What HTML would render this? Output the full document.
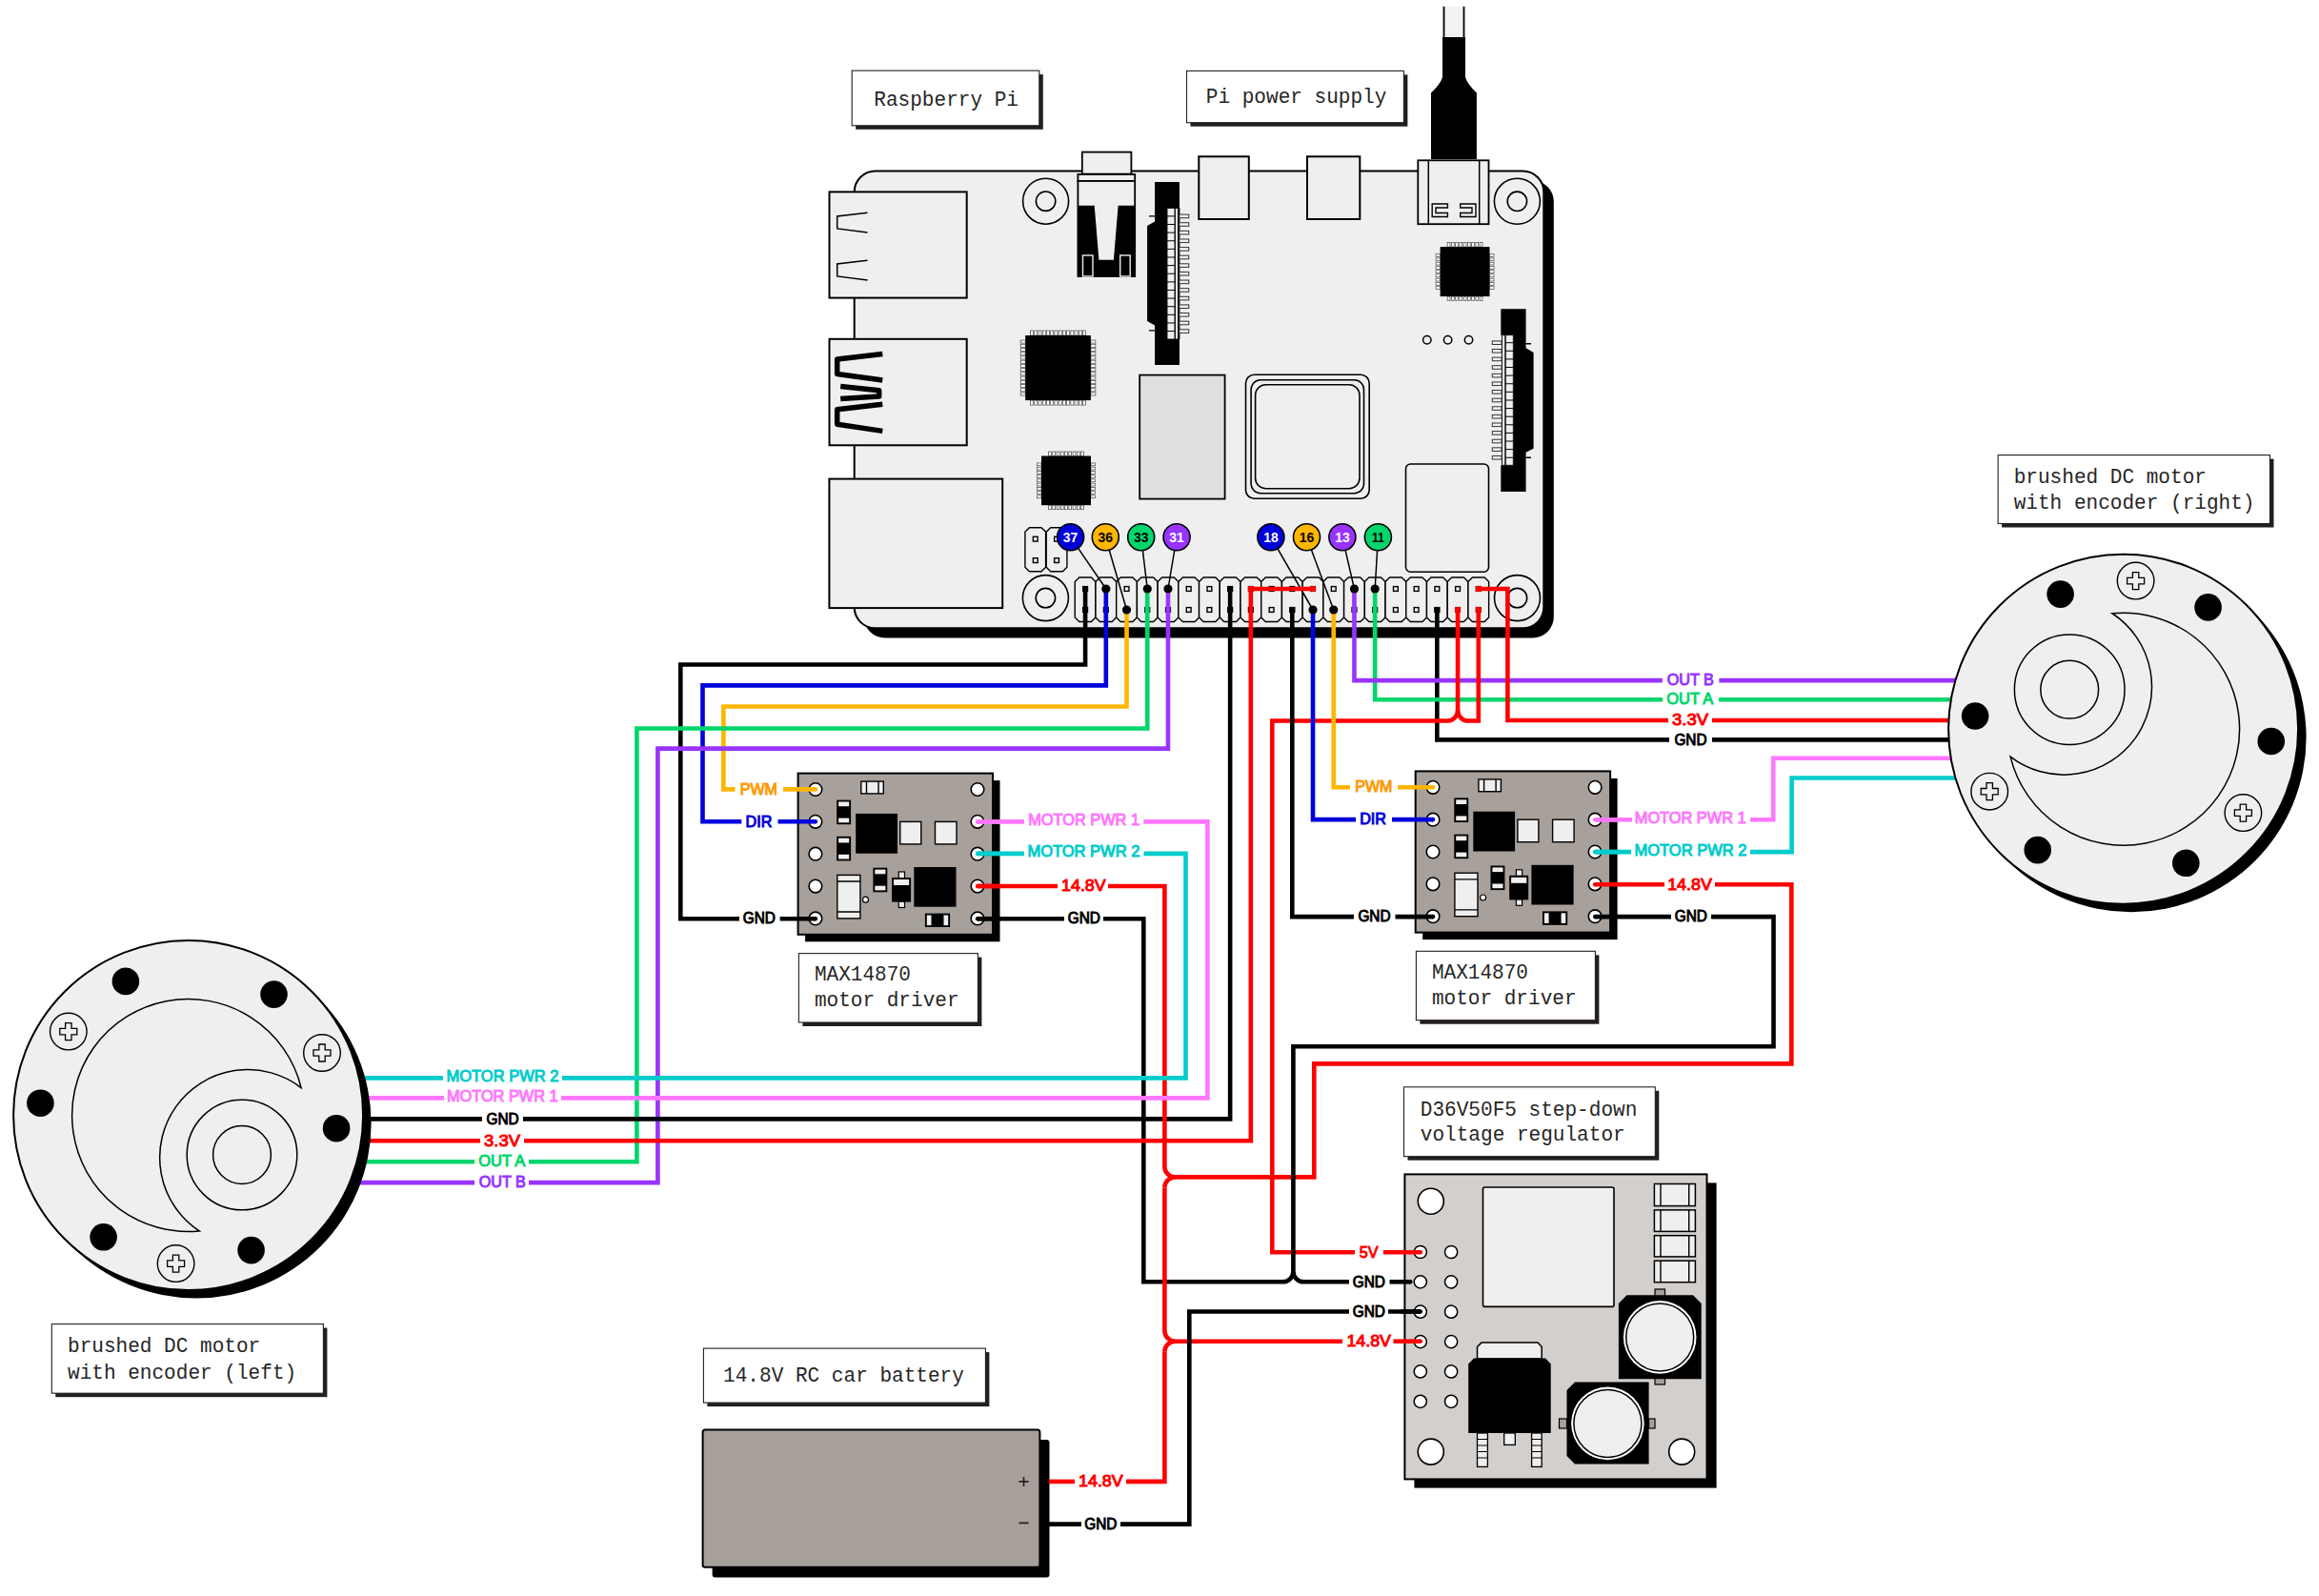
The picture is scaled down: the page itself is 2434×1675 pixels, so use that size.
<!DOCTYPE html>
<html><head><meta charset="utf-8"><title>wiring</title>
<style>
html,body{margin:0;padding:0;background:#fff;overflow:hidden;}
svg{display:block;}
.lb{font-family:"Liberation Mono",monospace;font-size:22.5px;fill:#262626;}
.wl{font-family:"Liberation Sans",sans-serif;font-weight:normal;font-size:15.8px;text-anchor:middle;stroke-width:0.95px;}
.pn{font-family:"Liberation Sans",sans-serif;font-weight:bold;font-size:15.5px;text-anchor:middle;}
</style></head><body>
<svg width="2434" height="1675" viewBox="0 0 2434 1675">
<rect width="2434" height="1675" fill="#fff"/>
<rect x="898.2" y="78.1" width="196.6" height="57.7" fill="#231f20"/>
<rect x="894.2" y="74.1" width="196.6" height="57.7" fill="#fff" stroke="#231f20" stroke-width="1.1"/>
<text class="lb" x="917.3" y="110.9" textLength="151.68" lengthAdjust="spacingAndGlyphs">Raspberry Pi</text>
<rect x="1249.5" y="78.4" width="227.9" height="54.3" fill="#231f20"/>
<rect x="1245.5" y="74.4" width="227.9" height="54.3" fill="#fff" stroke="#231f20" stroke-width="1.1"/>
<text class="lb" x="1265.8" y="107.6" textLength="189.6" lengthAdjust="spacingAndGlyphs">Pi power supply</text>
<rect x="2101.1" y="481.6" width="285.4" height="71.9" fill="#231f20"/>
<rect x="2097.1" y="477.6" width="285.4" height="71.9" fill="#fff" stroke="#231f20" stroke-width="1.1"/>
<text class="lb" x="2113.7" y="506.7" textLength="202.24" lengthAdjust="spacingAndGlyphs">brushed DC motor</text>
<text class="lb" x="2113.7" y="533.9" textLength="252.8" lengthAdjust="spacingAndGlyphs">with encoder (right)</text>
<rect x="842.4" y="1004.6" width="188" height="72.4" fill="#231f20"/>
<rect x="838.4" y="1000.6" width="188" height="72.4" fill="#fff" stroke="#231f20" stroke-width="1.1"/>
<text class="lb" x="854.9" y="1029.1" textLength="101.12" lengthAdjust="spacingAndGlyphs">MAX14870</text>
<text class="lb" x="854.9" y="1056" textLength="151.68" lengthAdjust="spacingAndGlyphs">motor driver</text>
<rect x="1490.4" y="1002.3" width="188" height="72.4" fill="#231f20"/>
<rect x="1486.4" y="998.3" width="188" height="72.4" fill="#fff" stroke="#231f20" stroke-width="1.1"/>
<text class="lb" x="1502.9" y="1026.8" textLength="101.12" lengthAdjust="spacingAndGlyphs">MAX14870</text>
<text class="lb" x="1502.9" y="1053.7" textLength="151.68" lengthAdjust="spacingAndGlyphs">motor driver</text>
<rect x="1477.5" y="1144.8" width="263.8" height="72.9" fill="#231f20"/>
<rect x="1473.5" y="1140.8" width="263.8" height="72.9" fill="#fff" stroke="#231f20" stroke-width="1.1"/>
<text class="lb" x="1490.8" y="1170.7" textLength="227.52" lengthAdjust="spacingAndGlyphs">D36V50F5 step-down</text>
<text class="lb" x="1490.8" y="1197.2" textLength="214.88" lengthAdjust="spacingAndGlyphs">voltage regulator</text>
<rect x="742.4" y="1419.1" width="296" height="57" fill="#231f20"/>
<rect x="738.4" y="1415.1" width="296" height="57" fill="#fff" stroke="#231f20" stroke-width="1.1"/>
<text class="lb" x="759.1" y="1450.3" textLength="252.8" lengthAdjust="spacingAndGlyphs">14.8V RC car battery</text>
<rect x="58.3" y="1393.6" width="285.1" height="72.6" fill="#231f20"/>
<rect x="54.3" y="1389.6" width="285.1" height="72.6" fill="#fff" stroke="#231f20" stroke-width="1.1"/>
<text class="lb" x="71" y="1419.4" textLength="202.24" lengthAdjust="spacingAndGlyphs">brushed DC motor</text>
<text class="lb" x="71" y="1446.5" textLength="240.16" lengthAdjust="spacingAndGlyphs">with encoder (left)</text>
<rect x="1515.2" y="6.8" width="21.7" height="33.2" fill="#f2f2f2"/>
<rect x="1514.6" y="6.8" width="1.8" height="33.2" fill="#000"/>
<rect x="1535.6" y="6.8" width="1.8" height="33.2" fill="#000"/>
<path d="M1514 38.9 H1538 V81 Q1540 88 1549.9 97.5 V167 H1502 V97.5 Q1512 88 1514 81 Z" fill="#000"/>
<rect x="906.7" y="189.5" width="724.1" height="479.9" rx="22" fill="#000"/>
<rect x="896.7" y="179.5" width="723.6" height="479.8" rx="22" fill="#efefef" stroke="#000" stroke-width="2"/>
<rect x="870.5" y="201.4" width="144.2" height="111.2" fill="#efefef" stroke="#000" stroke-width="2"/>
<rect x="870.5" y="355.8" width="144.2" height="111.5" fill="#efefef" stroke="#000" stroke-width="2"/>
<rect x="870.4" y="502.6" width="181.8" height="135.5" fill="#efefef" stroke="#000" stroke-width="2"/>
<path d="M910.5 223.2 L878.7 226.9 V239.9 L910.5 243.9" fill="none" stroke="#000" stroke-width="1.5"/>
<path d="M910.5 273.2 L878.7 276.9 V289.9 L910.5 293.9" fill="none" stroke="#000" stroke-width="1.5"/>
<path d="M926.3 371.6 L878.7 377.1 V392.5 L926.3 398.9 M882.2 405.6 L922.7 409.8 V416.1 L882.2 418.5 M926.3 424.3 L878.7 429.8 V445.2 L926.3 452.4" fill="none" stroke="#000" stroke-width="5.5" stroke-linejoin="round"/>
<circle cx="1097.6" cy="211.2" r="24" fill="#efefef" stroke="#000" stroke-width="1.6"/>
<circle cx="1097.6" cy="211.2" r="10.2" fill="#efefef" stroke="#000" stroke-width="1.6"/>
<circle cx="1592.4" cy="211.3" r="24" fill="#efefef" stroke="#000" stroke-width="1.6"/>
<circle cx="1592.4" cy="211.3" r="10.2" fill="#efefef" stroke="#000" stroke-width="1.6"/>
<circle cx="1097.4" cy="627.6" r="24" fill="#efefef" stroke="#000" stroke-width="1.6"/>
<circle cx="1097.4" cy="627.6" r="10.2" fill="#efefef" stroke="#000" stroke-width="1.6"/>
<circle cx="1592.5" cy="627.6" r="24" fill="#efefef" stroke="#000" stroke-width="1.6"/>
<circle cx="1592.5" cy="627.6" r="10.2" fill="#efefef" stroke="#000" stroke-width="1.6"/>
<rect x="1135.8" y="159.6" width="51.6" height="23" fill="#efefef" stroke="#000" stroke-width="1.8"/>
<rect x="1131.4" y="183" width="59.8" height="7" fill="#efefef" stroke="#000" stroke-width="1.8"/>
<rect x="1131.4" y="190" width="59.8" height="100" fill="#efefef" stroke="#000" stroke-width="1.8"/>
<path d="M1131.4 215.8 H1148.7 L1153.4 272.7 H1168.9 L1173.6 215.8 H1191.2 V290 H1131.4 Z" fill="#000"/>
<rect x="1136.5" y="268" width="10.5" height="22" fill="#000" stroke="#efefef" stroke-width="1.4"/>
<rect x="1175.7" y="268" width="10.5" height="22" fill="#000" stroke="#efefef" stroke-width="1.4"/>
<rect x="1258.3" y="164.3" width="52.5" height="65.7" fill="#efefef" stroke="#000" stroke-width="2"/>
<rect x="1372" y="164.3" width="55.3" height="65.7" fill="#efefef" stroke="#000" stroke-width="2"/>
<rect x="1488.3" y="168.3" width="74.2" height="66.9" fill="#efefef" stroke="#000" stroke-width="1.8"/>
<path d="M1499.3 168.3 V235.2 M1552.7 168.3 V235.2" stroke="#000" stroke-width="1.5"/>
<path d="M1519.4 214 H1503.2 V227.5 H1519.4 V223.5 H1507 V218 H1519.4 Z" fill="none" stroke="#000" stroke-width="1.4"/>
<path d="M1532.7 214 H1549 V227.5 H1532.7 V223.5 H1545 V218 H1532.7 Z" fill="none" stroke="#000" stroke-width="1.4"/>
<path d="M1212.1 191 H1238 V218 H1225 V356 H1238 V383 H1212.1 V341.4 L1204.1 337 V237 L1212.1 232.4 Z" fill="#000"/>
<path d="M1206 226.9 H1212 M1206 346.9 H1212" stroke="#000" stroke-width="1.4"/>
<rect x="1225" y="218.5" width="8" height="137.5" fill="#efefef" stroke="#000" stroke-width="0.9"/>
<rect x="1233.6" y="218.5" width="2.9" height="137.5" fill="#efefef" stroke="#000" stroke-width="0.9"/>
<rect x="1236.3" y="218" width="2.1" height="138" fill="#000"/>
<path d="M1225 226.9 H1233" stroke="#000" stroke-width="1"/>
<rect x="1237.8" y="225.1" width="10" height="3.6" fill="#efefef" stroke="#333" stroke-width="1"/>
<path d="M1225 235.52 H1233" stroke="#000" stroke-width="1"/>
<rect x="1237.8" y="233.72" width="10" height="3.6" fill="#efefef" stroke="#333" stroke-width="1"/>
<path d="M1225 244.14 H1233" stroke="#000" stroke-width="1"/>
<rect x="1237.8" y="242.34" width="10" height="3.6" fill="#efefef" stroke="#333" stroke-width="1"/>
<path d="M1225 252.76 H1233" stroke="#000" stroke-width="1"/>
<rect x="1237.8" y="250.96" width="10" height="3.6" fill="#efefef" stroke="#333" stroke-width="1"/>
<path d="M1225 261.38 H1233" stroke="#000" stroke-width="1"/>
<rect x="1237.8" y="259.58" width="10" height="3.6" fill="#efefef" stroke="#333" stroke-width="1"/>
<path d="M1225 270 H1233" stroke="#000" stroke-width="1"/>
<rect x="1237.8" y="268.2" width="10" height="3.6" fill="#efefef" stroke="#333" stroke-width="1"/>
<path d="M1225 278.62 H1233" stroke="#000" stroke-width="1"/>
<rect x="1237.8" y="276.82" width="10" height="3.6" fill="#efefef" stroke="#333" stroke-width="1"/>
<path d="M1225 287.24 H1233" stroke="#000" stroke-width="1"/>
<rect x="1237.8" y="285.44" width="10" height="3.6" fill="#efefef" stroke="#333" stroke-width="1"/>
<path d="M1225 295.86 H1233" stroke="#000" stroke-width="1"/>
<rect x="1237.8" y="294.06" width="10" height="3.6" fill="#efefef" stroke="#333" stroke-width="1"/>
<path d="M1225 304.48 H1233" stroke="#000" stroke-width="1"/>
<rect x="1237.8" y="302.68" width="10" height="3.6" fill="#efefef" stroke="#333" stroke-width="1"/>
<path d="M1225 313.1 H1233" stroke="#000" stroke-width="1"/>
<rect x="1237.8" y="311.3" width="10" height="3.6" fill="#efefef" stroke="#333" stroke-width="1"/>
<path d="M1225 321.72 H1233" stroke="#000" stroke-width="1"/>
<rect x="1237.8" y="319.92" width="10" height="3.6" fill="#efefef" stroke="#333" stroke-width="1"/>
<path d="M1225 330.34 H1233" stroke="#000" stroke-width="1"/>
<rect x="1237.8" y="328.54" width="10" height="3.6" fill="#efefef" stroke="#333" stroke-width="1"/>
<path d="M1225 338.96 H1233" stroke="#000" stroke-width="1"/>
<rect x="1237.8" y="337.16" width="10" height="3.6" fill="#efefef" stroke="#333" stroke-width="1"/>
<path d="M1225 347.58 H1233" stroke="#000" stroke-width="1"/>
<rect x="1237.8" y="345.78" width="10" height="3.6" fill="#efefef" stroke="#333" stroke-width="1"/>
<path d="M1575.3 324.2 H1601.6 V365.2 L1609.6 370 V470.7 L1601.6 474.8 V515.9 H1575.3 V488.3 H1588.3 V351.7 H1575.3 Z" fill="#000"/>
<path d="M1601.6 360.8 H1607 M1601.6 480.3 H1607" stroke="#000" stroke-width="1.4"/>
<rect x="1576.5" y="351.7" width="3.3" height="136.6" fill="#efefef" stroke="#000" stroke-width="0.9"/>
<rect x="1580.3" y="351.7" width="8" height="136.6" fill="#efefef" stroke="#000" stroke-width="0.9"/>
<path d="M1580.3 359.7 H1588.3" stroke="#000" stroke-width="1"/>
<rect x="1566.3" y="357.9" width="9.7" height="3.6" fill="#efefef" stroke="#333" stroke-width="1"/>
<path d="M1580.3 368.31 H1588.3" stroke="#000" stroke-width="1"/>
<rect x="1566.3" y="366.51" width="9.7" height="3.6" fill="#efefef" stroke="#333" stroke-width="1"/>
<path d="M1580.3 376.92 H1588.3" stroke="#000" stroke-width="1"/>
<rect x="1566.3" y="375.12" width="9.7" height="3.6" fill="#efefef" stroke="#333" stroke-width="1"/>
<path d="M1580.3 385.53 H1588.3" stroke="#000" stroke-width="1"/>
<rect x="1566.3" y="383.73" width="9.7" height="3.6" fill="#efefef" stroke="#333" stroke-width="1"/>
<path d="M1580.3 394.14 H1588.3" stroke="#000" stroke-width="1"/>
<rect x="1566.3" y="392.34" width="9.7" height="3.6" fill="#efefef" stroke="#333" stroke-width="1"/>
<path d="M1580.3 402.75 H1588.3" stroke="#000" stroke-width="1"/>
<rect x="1566.3" y="400.95" width="9.7" height="3.6" fill="#efefef" stroke="#333" stroke-width="1"/>
<path d="M1580.3 411.36 H1588.3" stroke="#000" stroke-width="1"/>
<rect x="1566.3" y="409.56" width="9.7" height="3.6" fill="#efefef" stroke="#333" stroke-width="1"/>
<path d="M1580.3 419.97 H1588.3" stroke="#000" stroke-width="1"/>
<rect x="1566.3" y="418.17" width="9.7" height="3.6" fill="#efefef" stroke="#333" stroke-width="1"/>
<path d="M1580.3 428.58 H1588.3" stroke="#000" stroke-width="1"/>
<rect x="1566.3" y="426.78" width="9.7" height="3.6" fill="#efefef" stroke="#333" stroke-width="1"/>
<path d="M1580.3 437.19 H1588.3" stroke="#000" stroke-width="1"/>
<rect x="1566.3" y="435.39" width="9.7" height="3.6" fill="#efefef" stroke="#333" stroke-width="1"/>
<path d="M1580.3 445.8 H1588.3" stroke="#000" stroke-width="1"/>
<rect x="1566.3" y="444" width="9.7" height="3.6" fill="#efefef" stroke="#333" stroke-width="1"/>
<path d="M1580.3 454.41 H1588.3" stroke="#000" stroke-width="1"/>
<rect x="1566.3" y="452.61" width="9.7" height="3.6" fill="#efefef" stroke="#333" stroke-width="1"/>
<path d="M1580.3 463.02 H1588.3" stroke="#000" stroke-width="1"/>
<rect x="1566.3" y="461.22" width="9.7" height="3.6" fill="#efefef" stroke="#333" stroke-width="1"/>
<path d="M1580.3 471.63 H1588.3" stroke="#000" stroke-width="1"/>
<rect x="1566.3" y="469.83" width="9.7" height="3.6" fill="#efefef" stroke="#333" stroke-width="1"/>
<path d="M1580.3 480.24 H1588.3" stroke="#000" stroke-width="1"/>
<rect x="1566.3" y="478.44" width="9.7" height="3.6" fill="#efefef" stroke="#333" stroke-width="1"/>
<rect x="1081.56" y="347" width="3" height="5" fill="#fff" stroke="#444" stroke-width="0.7"/>
<rect x="1081.56" y="420.1" width="3" height="5" fill="#fff" stroke="#444" stroke-width="0.7"/>
<rect x="1085.79" y="347" width="3" height="5" fill="#fff" stroke="#444" stroke-width="0.7"/>
<rect x="1085.79" y="420.1" width="3" height="5" fill="#fff" stroke="#444" stroke-width="0.7"/>
<rect x="1090.02" y="347" width="3" height="5" fill="#fff" stroke="#444" stroke-width="0.7"/>
<rect x="1090.02" y="420.1" width="3" height="5" fill="#fff" stroke="#444" stroke-width="0.7"/>
<rect x="1094.25" y="347" width="3" height="5" fill="#fff" stroke="#444" stroke-width="0.7"/>
<rect x="1094.25" y="420.1" width="3" height="5" fill="#fff" stroke="#444" stroke-width="0.7"/>
<rect x="1098.48" y="347" width="3" height="5" fill="#fff" stroke="#444" stroke-width="0.7"/>
<rect x="1098.48" y="420.1" width="3" height="5" fill="#fff" stroke="#444" stroke-width="0.7"/>
<rect x="1102.71" y="347" width="3" height="5" fill="#fff" stroke="#444" stroke-width="0.7"/>
<rect x="1102.71" y="420.1" width="3" height="5" fill="#fff" stroke="#444" stroke-width="0.7"/>
<rect x="1106.94" y="347" width="3" height="5" fill="#fff" stroke="#444" stroke-width="0.7"/>
<rect x="1106.94" y="420.1" width="3" height="5" fill="#fff" stroke="#444" stroke-width="0.7"/>
<rect x="1111.17" y="347" width="3" height="5" fill="#fff" stroke="#444" stroke-width="0.7"/>
<rect x="1111.17" y="420.1" width="3" height="5" fill="#fff" stroke="#444" stroke-width="0.7"/>
<rect x="1115.4" y="347" width="3" height="5" fill="#fff" stroke="#444" stroke-width="0.7"/>
<rect x="1115.4" y="420.1" width="3" height="5" fill="#fff" stroke="#444" stroke-width="0.7"/>
<rect x="1119.63" y="347" width="3" height="5" fill="#fff" stroke="#444" stroke-width="0.7"/>
<rect x="1119.63" y="420.1" width="3" height="5" fill="#fff" stroke="#444" stroke-width="0.7"/>
<rect x="1123.86" y="347" width="3" height="5" fill="#fff" stroke="#444" stroke-width="0.7"/>
<rect x="1123.86" y="420.1" width="3" height="5" fill="#fff" stroke="#444" stroke-width="0.7"/>
<rect x="1128.09" y="347" width="3" height="5" fill="#fff" stroke="#444" stroke-width="0.7"/>
<rect x="1128.09" y="420.1" width="3" height="5" fill="#fff" stroke="#444" stroke-width="0.7"/>
<rect x="1132.32" y="347" width="3" height="5" fill="#fff" stroke="#444" stroke-width="0.7"/>
<rect x="1132.32" y="420.1" width="3" height="5" fill="#fff" stroke="#444" stroke-width="0.7"/>
<rect x="1136.55" y="347" width="3" height="5" fill="#fff" stroke="#444" stroke-width="0.7"/>
<rect x="1136.55" y="420.1" width="3" height="5" fill="#fff" stroke="#444" stroke-width="0.7"/>
<rect x="1071.2" y="357.06" width="5" height="3" fill="#fff" stroke="#444" stroke-width="0.7"/>
<rect x="1144.9" y="357.06" width="5" height="3" fill="#fff" stroke="#444" stroke-width="0.7"/>
<rect x="1071.2" y="361.29" width="5" height="3" fill="#fff" stroke="#444" stroke-width="0.7"/>
<rect x="1144.9" y="361.29" width="5" height="3" fill="#fff" stroke="#444" stroke-width="0.7"/>
<rect x="1071.2" y="365.51" width="5" height="3" fill="#fff" stroke="#444" stroke-width="0.7"/>
<rect x="1144.9" y="365.51" width="5" height="3" fill="#fff" stroke="#444" stroke-width="0.7"/>
<rect x="1071.2" y="369.75" width="5" height="3" fill="#fff" stroke="#444" stroke-width="0.7"/>
<rect x="1144.9" y="369.75" width="5" height="3" fill="#fff" stroke="#444" stroke-width="0.7"/>
<rect x="1071.2" y="373.98" width="5" height="3" fill="#fff" stroke="#444" stroke-width="0.7"/>
<rect x="1144.9" y="373.98" width="5" height="3" fill="#fff" stroke="#444" stroke-width="0.7"/>
<rect x="1071.2" y="378.2" width="5" height="3" fill="#fff" stroke="#444" stroke-width="0.7"/>
<rect x="1144.9" y="378.2" width="5" height="3" fill="#fff" stroke="#444" stroke-width="0.7"/>
<rect x="1071.2" y="382.44" width="5" height="3" fill="#fff" stroke="#444" stroke-width="0.7"/>
<rect x="1144.9" y="382.44" width="5" height="3" fill="#fff" stroke="#444" stroke-width="0.7"/>
<rect x="1071.2" y="386.67" width="5" height="3" fill="#fff" stroke="#444" stroke-width="0.7"/>
<rect x="1144.9" y="386.67" width="5" height="3" fill="#fff" stroke="#444" stroke-width="0.7"/>
<rect x="1071.2" y="390.9" width="5" height="3" fill="#fff" stroke="#444" stroke-width="0.7"/>
<rect x="1144.9" y="390.9" width="5" height="3" fill="#fff" stroke="#444" stroke-width="0.7"/>
<rect x="1071.2" y="395.12" width="5" height="3" fill="#fff" stroke="#444" stroke-width="0.7"/>
<rect x="1144.9" y="395.12" width="5" height="3" fill="#fff" stroke="#444" stroke-width="0.7"/>
<rect x="1071.2" y="399.36" width="5" height="3" fill="#fff" stroke="#444" stroke-width="0.7"/>
<rect x="1144.9" y="399.36" width="5" height="3" fill="#fff" stroke="#444" stroke-width="0.7"/>
<rect x="1071.2" y="403.59" width="5" height="3" fill="#fff" stroke="#444" stroke-width="0.7"/>
<rect x="1144.9" y="403.59" width="5" height="3" fill="#fff" stroke="#444" stroke-width="0.7"/>
<rect x="1071.2" y="407.81" width="5" height="3" fill="#fff" stroke="#444" stroke-width="0.7"/>
<rect x="1144.9" y="407.81" width="5" height="3" fill="#fff" stroke="#444" stroke-width="0.7"/>
<rect x="1071.2" y="412.05" width="5" height="3" fill="#fff" stroke="#444" stroke-width="0.7"/>
<rect x="1144.9" y="412.05" width="5" height="3" fill="#fff" stroke="#444" stroke-width="0.7"/>
<rect x="1076.2" y="352" width="68.7" height="68.1" fill="#000"/>
<rect x="1100.6" y="474" width="2.8" height="4.5" fill="#fff" stroke="#444" stroke-width="0.7"/>
<rect x="1100.6" y="530.2" width="2.8" height="4.5" fill="#fff" stroke="#444" stroke-width="0.7"/>
<rect x="1104.85" y="474" width="2.8" height="4.5" fill="#fff" stroke="#444" stroke-width="0.7"/>
<rect x="1104.85" y="530.2" width="2.8" height="4.5" fill="#fff" stroke="#444" stroke-width="0.7"/>
<rect x="1109.1" y="474" width="2.8" height="4.5" fill="#fff" stroke="#444" stroke-width="0.7"/>
<rect x="1109.1" y="530.2" width="2.8" height="4.5" fill="#fff" stroke="#444" stroke-width="0.7"/>
<rect x="1113.35" y="474" width="2.8" height="4.5" fill="#fff" stroke="#444" stroke-width="0.7"/>
<rect x="1113.35" y="530.2" width="2.8" height="4.5" fill="#fff" stroke="#444" stroke-width="0.7"/>
<rect x="1117.6" y="474" width="2.8" height="4.5" fill="#fff" stroke="#444" stroke-width="0.7"/>
<rect x="1117.6" y="530.2" width="2.8" height="4.5" fill="#fff" stroke="#444" stroke-width="0.7"/>
<rect x="1121.85" y="474" width="2.8" height="4.5" fill="#fff" stroke="#444" stroke-width="0.7"/>
<rect x="1121.85" y="530.2" width="2.8" height="4.5" fill="#fff" stroke="#444" stroke-width="0.7"/>
<rect x="1126.1" y="474" width="2.8" height="4.5" fill="#fff" stroke="#444" stroke-width="0.7"/>
<rect x="1126.1" y="530.2" width="2.8" height="4.5" fill="#fff" stroke="#444" stroke-width="0.7"/>
<rect x="1130.35" y="474" width="2.8" height="4.5" fill="#fff" stroke="#444" stroke-width="0.7"/>
<rect x="1130.35" y="530.2" width="2.8" height="4.5" fill="#fff" stroke="#444" stroke-width="0.7"/>
<rect x="1134.6" y="474" width="2.8" height="4.5" fill="#fff" stroke="#444" stroke-width="0.7"/>
<rect x="1134.6" y="530.2" width="2.8" height="4.5" fill="#fff" stroke="#444" stroke-width="0.7"/>
<rect x="1088.5" y="485.95" width="4.5" height="2.8" fill="#fff" stroke="#444" stroke-width="0.7"/>
<rect x="1145" y="485.95" width="4.5" height="2.8" fill="#fff" stroke="#444" stroke-width="0.7"/>
<rect x="1088.5" y="490.2" width="4.5" height="2.8" fill="#fff" stroke="#444" stroke-width="0.7"/>
<rect x="1145" y="490.2" width="4.5" height="2.8" fill="#fff" stroke="#444" stroke-width="0.7"/>
<rect x="1088.5" y="494.45" width="4.5" height="2.8" fill="#fff" stroke="#444" stroke-width="0.7"/>
<rect x="1145" y="494.45" width="4.5" height="2.8" fill="#fff" stroke="#444" stroke-width="0.7"/>
<rect x="1088.5" y="498.7" width="4.5" height="2.8" fill="#fff" stroke="#444" stroke-width="0.7"/>
<rect x="1145" y="498.7" width="4.5" height="2.8" fill="#fff" stroke="#444" stroke-width="0.7"/>
<rect x="1088.5" y="502.95" width="4.5" height="2.8" fill="#fff" stroke="#444" stroke-width="0.7"/>
<rect x="1145" y="502.95" width="4.5" height="2.8" fill="#fff" stroke="#444" stroke-width="0.7"/>
<rect x="1088.5" y="507.2" width="4.5" height="2.8" fill="#fff" stroke="#444" stroke-width="0.7"/>
<rect x="1145" y="507.2" width="4.5" height="2.8" fill="#fff" stroke="#444" stroke-width="0.7"/>
<rect x="1088.5" y="511.45" width="4.5" height="2.8" fill="#fff" stroke="#444" stroke-width="0.7"/>
<rect x="1145" y="511.45" width="4.5" height="2.8" fill="#fff" stroke="#444" stroke-width="0.7"/>
<rect x="1088.5" y="515.7" width="4.5" height="2.8" fill="#fff" stroke="#444" stroke-width="0.7"/>
<rect x="1145" y="515.7" width="4.5" height="2.8" fill="#fff" stroke="#444" stroke-width="0.7"/>
<rect x="1088.5" y="519.95" width="4.5" height="2.8" fill="#fff" stroke="#444" stroke-width="0.7"/>
<rect x="1145" y="519.95" width="4.5" height="2.8" fill="#fff" stroke="#444" stroke-width="0.7"/>
<rect x="1093" y="478.5" width="52" height="51.7" fill="#000"/>
<rect x="1519.15" y="254.6" width="2.8" height="4.5" fill="#fff" stroke="#444" stroke-width="0.7"/>
<rect x="1519.15" y="311.1" width="2.8" height="4.5" fill="#fff" stroke="#444" stroke-width="0.7"/>
<rect x="1523.4" y="254.6" width="2.8" height="4.5" fill="#fff" stroke="#444" stroke-width="0.7"/>
<rect x="1523.4" y="311.1" width="2.8" height="4.5" fill="#fff" stroke="#444" stroke-width="0.7"/>
<rect x="1527.65" y="254.6" width="2.8" height="4.5" fill="#fff" stroke="#444" stroke-width="0.7"/>
<rect x="1527.65" y="311.1" width="2.8" height="4.5" fill="#fff" stroke="#444" stroke-width="0.7"/>
<rect x="1531.9" y="254.6" width="2.8" height="4.5" fill="#fff" stroke="#444" stroke-width="0.7"/>
<rect x="1531.9" y="311.1" width="2.8" height="4.5" fill="#fff" stroke="#444" stroke-width="0.7"/>
<rect x="1536.15" y="254.6" width="2.8" height="4.5" fill="#fff" stroke="#444" stroke-width="0.7"/>
<rect x="1536.15" y="311.1" width="2.8" height="4.5" fill="#fff" stroke="#444" stroke-width="0.7"/>
<rect x="1540.4" y="254.6" width="2.8" height="4.5" fill="#fff" stroke="#444" stroke-width="0.7"/>
<rect x="1540.4" y="311.1" width="2.8" height="4.5" fill="#fff" stroke="#444" stroke-width="0.7"/>
<rect x="1544.65" y="254.6" width="2.8" height="4.5" fill="#fff" stroke="#444" stroke-width="0.7"/>
<rect x="1544.65" y="311.1" width="2.8" height="4.5" fill="#fff" stroke="#444" stroke-width="0.7"/>
<rect x="1548.9" y="254.6" width="2.8" height="4.5" fill="#fff" stroke="#444" stroke-width="0.7"/>
<rect x="1548.9" y="311.1" width="2.8" height="4.5" fill="#fff" stroke="#444" stroke-width="0.7"/>
<rect x="1553.15" y="254.6" width="2.8" height="4.5" fill="#fff" stroke="#444" stroke-width="0.7"/>
<rect x="1553.15" y="311.1" width="2.8" height="4.5" fill="#fff" stroke="#444" stroke-width="0.7"/>
<rect x="1507.1" y="266.7" width="4.5" height="2.8" fill="#fff" stroke="#444" stroke-width="0.7"/>
<rect x="1563.5" y="266.7" width="4.5" height="2.8" fill="#fff" stroke="#444" stroke-width="0.7"/>
<rect x="1507.1" y="270.95" width="4.5" height="2.8" fill="#fff" stroke="#444" stroke-width="0.7"/>
<rect x="1563.5" y="270.95" width="4.5" height="2.8" fill="#fff" stroke="#444" stroke-width="0.7"/>
<rect x="1507.1" y="275.2" width="4.5" height="2.8" fill="#fff" stroke="#444" stroke-width="0.7"/>
<rect x="1563.5" y="275.2" width="4.5" height="2.8" fill="#fff" stroke="#444" stroke-width="0.7"/>
<rect x="1507.1" y="279.45" width="4.5" height="2.8" fill="#fff" stroke="#444" stroke-width="0.7"/>
<rect x="1563.5" y="279.45" width="4.5" height="2.8" fill="#fff" stroke="#444" stroke-width="0.7"/>
<rect x="1507.1" y="283.7" width="4.5" height="2.8" fill="#fff" stroke="#444" stroke-width="0.7"/>
<rect x="1563.5" y="283.7" width="4.5" height="2.8" fill="#fff" stroke="#444" stroke-width="0.7"/>
<rect x="1507.1" y="287.95" width="4.5" height="2.8" fill="#fff" stroke="#444" stroke-width="0.7"/>
<rect x="1563.5" y="287.95" width="4.5" height="2.8" fill="#fff" stroke="#444" stroke-width="0.7"/>
<rect x="1507.1" y="292.2" width="4.5" height="2.8" fill="#fff" stroke="#444" stroke-width="0.7"/>
<rect x="1563.5" y="292.2" width="4.5" height="2.8" fill="#fff" stroke="#444" stroke-width="0.7"/>
<rect x="1507.1" y="296.45" width="4.5" height="2.8" fill="#fff" stroke="#444" stroke-width="0.7"/>
<rect x="1563.5" y="296.45" width="4.5" height="2.8" fill="#fff" stroke="#444" stroke-width="0.7"/>
<rect x="1507.1" y="300.7" width="4.5" height="2.8" fill="#fff" stroke="#444" stroke-width="0.7"/>
<rect x="1563.5" y="300.7" width="4.5" height="2.8" fill="#fff" stroke="#444" stroke-width="0.7"/>
<rect x="1511.6" y="259.1" width="51.9" height="52" fill="#000"/>
<circle cx="1497.8" cy="356.7" r="4.2" fill="#efefef" stroke="#000" stroke-width="1.5"/>
<circle cx="1519.6" cy="356.7" r="4.2" fill="#efefef" stroke="#000" stroke-width="1.5"/>
<circle cx="1541.5" cy="356.7" r="4.2" fill="#efefef" stroke="#000" stroke-width="1.5"/>
<rect x="1196.2" y="393.6" width="89.4" height="130" fill="#e0dfde" stroke="#000" stroke-width="1.8"/>
<rect x="1307.5" y="393.2" width="129.7" height="130.1" rx="9" fill="#efefef" stroke="#000" stroke-width="1.6"/>
<rect x="1313.1" y="398.8" width="118.4" height="118.9" rx="10" fill="#efefef" stroke="#000" stroke-width="1.6"/>
<rect x="1317.6" y="403.8" width="109.4" height="108.9" rx="11" fill="#efefef" stroke="#000" stroke-width="1.6"/>
<rect x="1475.5" y="487" width="87" height="113.2" rx="5" fill="#efefef" stroke="#000" stroke-width="1.6"/>
<path d="M1080.4 553.7 H1093.1 L1097.6 558.2 V595.2 L1093.1 599.7 H1080.4 L1075.9 595.2 V558.2 Z" fill="#efefef" stroke="#000" stroke-width="1.4" stroke-linejoin="round"/>
<rect x="1084.35" y="563.3" width="4.8" height="4.8" fill="#efefef" stroke="#000" stroke-width="1.4"/>
<rect x="1084.35" y="585.7" width="4.8" height="4.8" fill="#efefef" stroke="#000" stroke-width="1.4"/>
<path d="M1102.7 553.7 H1115.4 L1119.9 558.2 V595.2 L1115.4 599.7 H1102.7 L1098.2 595.2 V558.2 Z" fill="#efefef" stroke="#000" stroke-width="1.4" stroke-linejoin="round"/>
<rect x="1106.65" y="563.3" width="4.8" height="4.8" fill="#efefef" stroke="#000" stroke-width="1.4"/>
<rect x="1106.65" y="585.7" width="4.8" height="4.8" fill="#efefef" stroke="#000" stroke-width="1.4"/>
<path d="M1132.75 606 H1145.45 L1149.95 610.5 V648 L1145.45 652.5 H1132.75 L1128.25 648 V610.5 Z" fill="#efefef" stroke="#000" stroke-width="1.4" stroke-linejoin="round"/>
<rect x="1136.7" y="615.6" width="4.8" height="4.8" fill="#efefef" stroke="#000" stroke-width="1.4"/>
<rect x="1136.7" y="637.6" width="4.8" height="4.8" fill="#efefef" stroke="#000" stroke-width="1.4"/>
<path d="M1154.47 606 H1167.17 L1171.67 610.5 V648 L1167.17 652.5 H1154.47 L1149.97 648 V610.5 Z" fill="#efefef" stroke="#000" stroke-width="1.4" stroke-linejoin="round"/>
<rect x="1158.42" y="615.6" width="4.8" height="4.8" fill="#efefef" stroke="#000" stroke-width="1.4"/>
<rect x="1158.42" y="637.6" width="4.8" height="4.8" fill="#efefef" stroke="#000" stroke-width="1.4"/>
<path d="M1176.19 606 H1188.89 L1193.39 610.5 V648 L1188.89 652.5 H1176.19 L1171.69 648 V610.5 Z" fill="#efefef" stroke="#000" stroke-width="1.4" stroke-linejoin="round"/>
<rect x="1180.14" y="615.6" width="4.8" height="4.8" fill="#efefef" stroke="#000" stroke-width="1.4"/>
<rect x="1180.14" y="637.6" width="4.8" height="4.8" fill="#efefef" stroke="#000" stroke-width="1.4"/>
<path d="M1197.91 606 H1210.61 L1215.11 610.5 V648 L1210.61 652.5 H1197.91 L1193.41 648 V610.5 Z" fill="#efefef" stroke="#000" stroke-width="1.4" stroke-linejoin="round"/>
<rect x="1201.86" y="615.6" width="4.8" height="4.8" fill="#efefef" stroke="#000" stroke-width="1.4"/>
<rect x="1201.86" y="637.6" width="4.8" height="4.8" fill="#efefef" stroke="#000" stroke-width="1.4"/>
<path d="M1219.63 606 H1232.33 L1236.83 610.5 V648 L1232.33 652.5 H1219.63 L1215.13 648 V610.5 Z" fill="#efefef" stroke="#000" stroke-width="1.4" stroke-linejoin="round"/>
<rect x="1223.58" y="615.6" width="4.8" height="4.8" fill="#efefef" stroke="#000" stroke-width="1.4"/>
<rect x="1223.58" y="637.6" width="4.8" height="4.8" fill="#efefef" stroke="#000" stroke-width="1.4"/>
<path d="M1241.35 606 H1254.05 L1258.55 610.5 V648 L1254.05 652.5 H1241.35 L1236.85 648 V610.5 Z" fill="#efefef" stroke="#000" stroke-width="1.4" stroke-linejoin="round"/>
<rect x="1245.3" y="615.6" width="4.8" height="4.8" fill="#efefef" stroke="#000" stroke-width="1.4"/>
<rect x="1245.3" y="637.6" width="4.8" height="4.8" fill="#efefef" stroke="#000" stroke-width="1.4"/>
<path d="M1263.07 606 H1275.77 L1280.27 610.5 V648 L1275.77 652.5 H1263.07 L1258.57 648 V610.5 Z" fill="#efefef" stroke="#000" stroke-width="1.4" stroke-linejoin="round"/>
<rect x="1267.02" y="615.6" width="4.8" height="4.8" fill="#efefef" stroke="#000" stroke-width="1.4"/>
<rect x="1267.02" y="637.6" width="4.8" height="4.8" fill="#efefef" stroke="#000" stroke-width="1.4"/>
<path d="M1284.79 606 H1297.49 L1301.99 610.5 V648 L1297.49 652.5 H1284.79 L1280.29 648 V610.5 Z" fill="#efefef" stroke="#000" stroke-width="1.4" stroke-linejoin="round"/>
<rect x="1288.74" y="615.6" width="4.8" height="4.8" fill="#efefef" stroke="#000" stroke-width="1.4"/>
<rect x="1288.74" y="637.6" width="4.8" height="4.8" fill="#efefef" stroke="#000" stroke-width="1.4"/>
<path d="M1306.51 606 H1319.21 L1323.71 610.5 V648 L1319.21 652.5 H1306.51 L1302.01 648 V610.5 Z" fill="#efefef" stroke="#000" stroke-width="1.4" stroke-linejoin="round"/>
<rect x="1310.46" y="615.6" width="4.8" height="4.8" fill="#efefef" stroke="#000" stroke-width="1.4"/>
<rect x="1310.46" y="637.6" width="4.8" height="4.8" fill="#efefef" stroke="#000" stroke-width="1.4"/>
<path d="M1328.23 606 H1340.93 L1345.43 610.5 V648 L1340.93 652.5 H1328.23 L1323.73 648 V610.5 Z" fill="#efefef" stroke="#000" stroke-width="1.4" stroke-linejoin="round"/>
<rect x="1332.18" y="615.6" width="4.8" height="4.8" fill="#efefef" stroke="#000" stroke-width="1.4"/>
<rect x="1332.18" y="637.6" width="4.8" height="4.8" fill="#efefef" stroke="#000" stroke-width="1.4"/>
<path d="M1349.95 606 H1362.65 L1367.15 610.5 V648 L1362.65 652.5 H1349.95 L1345.45 648 V610.5 Z" fill="#efefef" stroke="#000" stroke-width="1.4" stroke-linejoin="round"/>
<rect x="1353.9" y="615.6" width="4.8" height="4.8" fill="#efefef" stroke="#000" stroke-width="1.4"/>
<rect x="1353.9" y="637.6" width="4.8" height="4.8" fill="#efefef" stroke="#000" stroke-width="1.4"/>
<path d="M1371.67 606 H1384.37 L1388.87 610.5 V648 L1384.37 652.5 H1371.67 L1367.17 648 V610.5 Z" fill="#efefef" stroke="#000" stroke-width="1.4" stroke-linejoin="round"/>
<rect x="1375.62" y="615.6" width="4.8" height="4.8" fill="#efefef" stroke="#000" stroke-width="1.4"/>
<rect x="1375.62" y="637.6" width="4.8" height="4.8" fill="#efefef" stroke="#000" stroke-width="1.4"/>
<path d="M1393.39 606 H1406.09 L1410.59 610.5 V648 L1406.09 652.5 H1393.39 L1388.89 648 V610.5 Z" fill="#efefef" stroke="#000" stroke-width="1.4" stroke-linejoin="round"/>
<rect x="1397.34" y="615.6" width="4.8" height="4.8" fill="#efefef" stroke="#000" stroke-width="1.4"/>
<rect x="1397.34" y="637.6" width="4.8" height="4.8" fill="#efefef" stroke="#000" stroke-width="1.4"/>
<path d="M1415.11 606 H1427.81 L1432.31 610.5 V648 L1427.81 652.5 H1415.11 L1410.61 648 V610.5 Z" fill="#efefef" stroke="#000" stroke-width="1.4" stroke-linejoin="round"/>
<rect x="1419.06" y="615.6" width="4.8" height="4.8" fill="#efefef" stroke="#000" stroke-width="1.4"/>
<rect x="1419.06" y="637.6" width="4.8" height="4.8" fill="#efefef" stroke="#000" stroke-width="1.4"/>
<path d="M1436.83 606 H1449.53 L1454.03 610.5 V648 L1449.53 652.5 H1436.83 L1432.33 648 V610.5 Z" fill="#efefef" stroke="#000" stroke-width="1.4" stroke-linejoin="round"/>
<rect x="1440.78" y="615.6" width="4.8" height="4.8" fill="#efefef" stroke="#000" stroke-width="1.4"/>
<rect x="1440.78" y="637.6" width="4.8" height="4.8" fill="#efefef" stroke="#000" stroke-width="1.4"/>
<path d="M1458.55 606 H1471.25 L1475.75 610.5 V648 L1471.25 652.5 H1458.55 L1454.05 648 V610.5 Z" fill="#efefef" stroke="#000" stroke-width="1.4" stroke-linejoin="round"/>
<rect x="1462.5" y="615.6" width="4.8" height="4.8" fill="#efefef" stroke="#000" stroke-width="1.4"/>
<rect x="1462.5" y="637.6" width="4.8" height="4.8" fill="#efefef" stroke="#000" stroke-width="1.4"/>
<path d="M1480.27 606 H1492.97 L1497.47 610.5 V648 L1492.97 652.5 H1480.27 L1475.77 648 V610.5 Z" fill="#efefef" stroke="#000" stroke-width="1.4" stroke-linejoin="round"/>
<rect x="1484.22" y="615.6" width="4.8" height="4.8" fill="#efefef" stroke="#000" stroke-width="1.4"/>
<rect x="1484.22" y="637.6" width="4.8" height="4.8" fill="#efefef" stroke="#000" stroke-width="1.4"/>
<path d="M1501.99 606 H1514.69 L1519.19 610.5 V648 L1514.69 652.5 H1501.99 L1497.49 648 V610.5 Z" fill="#efefef" stroke="#000" stroke-width="1.4" stroke-linejoin="round"/>
<rect x="1505.94" y="615.6" width="4.8" height="4.8" fill="#efefef" stroke="#000" stroke-width="1.4"/>
<rect x="1505.94" y="637.6" width="4.8" height="4.8" fill="#efefef" stroke="#000" stroke-width="1.4"/>
<path d="M1523.71 606 H1536.41 L1540.91 610.5 V648 L1536.41 652.5 H1523.71 L1519.21 648 V610.5 Z" fill="#efefef" stroke="#000" stroke-width="1.4" stroke-linejoin="round"/>
<rect x="1527.66" y="615.6" width="4.8" height="4.8" fill="#efefef" stroke="#000" stroke-width="1.4"/>
<rect x="1527.66" y="637.6" width="4.8" height="4.8" fill="#efefef" stroke="#000" stroke-width="1.4"/>
<path d="M1545.43 606 H1558.13 L1562.63 610.5 V648 L1558.13 652.5 H1545.43 L1540.93 648 V610.5 Z" fill="#efefef" stroke="#000" stroke-width="1.4" stroke-linejoin="round"/>
<rect x="1549.38" y="615.6" width="4.8" height="4.8" fill="#efefef" stroke="#000" stroke-width="1.4"/>
<rect x="1549.38" y="637.6" width="4.8" height="4.8" fill="#efefef" stroke="#000" stroke-width="1.4"/>
<rect x="845.1" y="819.1" width="204.4" height="169.2" fill="#000"/>
<rect x="837.6" y="811.6" width="204.4" height="169.2" fill="#a8a09b" stroke="#000" stroke-width="2"/>
<circle cx="855.9" cy="828.5" r="6.8" fill="#fff" stroke="#000" stroke-width="1.6"/>
<circle cx="855.9" cy="862.35" r="6.8" fill="#fff" stroke="#000" stroke-width="1.6"/>
<circle cx="855.9" cy="896.2" r="6.8" fill="#fff" stroke="#000" stroke-width="1.6"/>
<circle cx="855.9" cy="930.05" r="6.8" fill="#fff" stroke="#000" stroke-width="1.6"/>
<circle cx="855.9" cy="963.9" r="6.8" fill="#fff" stroke="#000" stroke-width="1.6"/>
<circle cx="1026" cy="828.5" r="6.8" fill="#fff" stroke="#000" stroke-width="1.6"/>
<circle cx="1026" cy="862.35" r="6.8" fill="#fff" stroke="#000" stroke-width="1.6"/>
<circle cx="1026" cy="896.2" r="6.8" fill="#fff" stroke="#000" stroke-width="1.6"/>
<circle cx="1026" cy="930.05" r="6.8" fill="#fff" stroke="#000" stroke-width="1.6"/>
<circle cx="1026" cy="963.9" r="6.8" fill="#fff" stroke="#000" stroke-width="1.6"/>
<rect x="903.8" y="820.1" width="23.5" height="12.8" fill="#efefef" stroke="#000" stroke-width="1.4"/>
<path d="M909.5 820.1 V832.9 M922 820.1 V832.9" stroke="#000" stroke-width="1.4"/>
<rect x="878.8" y="840.2" width="13.7" height="24.4" fill="#000" stroke="#000" stroke-width="1.2"/>
<rect x="880.1" y="841.5" width="11.1" height="4.7" fill="#efefef"/>
<rect x="880.1" y="858.6" width="11.1" height="4.7" fill="#efefef"/>
<rect x="878.8" y="878.4" width="13.7" height="24.4" fill="#000" stroke="#000" stroke-width="1.2"/>
<rect x="880.1" y="879.7" width="11.1" height="4.7" fill="#efefef"/>
<rect x="880.1" y="896.8" width="11.1" height="4.7" fill="#efefef"/>
<rect x="917" y="911.3" width="13.7" height="24.4" fill="#000" stroke="#000" stroke-width="1.2"/>
<rect x="918.3" y="912.6" width="11.1" height="4.7" fill="#efefef"/>
<rect x="918.3" y="929.7" width="11.1" height="4.7" fill="#efefef"/>
<rect x="898.2" y="853.9" width="43.8" height="41.8" fill="#000"/>
<rect x="959.3" y="910" width="44.2" height="41.7" fill="#000"/>
<rect x="944.8" y="862.4" width="22" height="23.5" fill="#efefef" stroke="#000" stroke-width="1.4"/>
<rect x="981.5" y="862.4" width="22.5" height="23.5" fill="#efefef" stroke="#000" stroke-width="1.4"/>
<rect x="878.8" y="918.4" width="24.1" height="45.5" fill="#efefef" stroke="#000" stroke-width="1.4"/>
<path d="M878.8 925 H902.9 M878.8 957 H902.9" stroke="#000" stroke-width="1.3"/>
<circle cx="908.5" cy="944.2" r="3" fill="#fff" stroke="#000" stroke-width="1.2"/>
<rect x="943.3" y="915" width="6.2" height="6.6" fill="#efefef" stroke="#000" stroke-width="1.2"/>
<rect x="943.3" y="946" width="6.2" height="6.5" fill="#efefef" stroke="#000" stroke-width="1.2"/>
<rect x="936.7" y="921.6" width="18.8" height="24.4" fill="#000" stroke="#000" stroke-width="1.2"/>
<rect x="938" y="923" width="16.2" height="6" fill="#efefef"/>
<rect x="971.5" y="959.2" width="25" height="13.2" fill="#000" stroke="#000" stroke-width="1.2"/>
<rect x="972.8" y="960.5" width="4.7" height="10.6" fill="#efefef"/>
<rect x="990.5" y="960.5" width="4.7" height="10.6" fill="#efefef"/>
<rect x="1493.2" y="816.9" width="204.4" height="169.2" fill="#000"/>
<rect x="1485.7" y="809.4" width="204.4" height="169.2" fill="#a8a09b" stroke="#000" stroke-width="2"/>
<circle cx="1504" cy="826.3" r="6.8" fill="#fff" stroke="#000" stroke-width="1.6"/>
<circle cx="1504" cy="860.15" r="6.8" fill="#fff" stroke="#000" stroke-width="1.6"/>
<circle cx="1504" cy="894" r="6.8" fill="#fff" stroke="#000" stroke-width="1.6"/>
<circle cx="1504" cy="927.85" r="6.8" fill="#fff" stroke="#000" stroke-width="1.6"/>
<circle cx="1504" cy="961.7" r="6.8" fill="#fff" stroke="#000" stroke-width="1.6"/>
<circle cx="1674.1" cy="826.3" r="6.8" fill="#fff" stroke="#000" stroke-width="1.6"/>
<circle cx="1674.1" cy="860.15" r="6.8" fill="#fff" stroke="#000" stroke-width="1.6"/>
<circle cx="1674.1" cy="894" r="6.8" fill="#fff" stroke="#000" stroke-width="1.6"/>
<circle cx="1674.1" cy="927.85" r="6.8" fill="#fff" stroke="#000" stroke-width="1.6"/>
<circle cx="1674.1" cy="961.7" r="6.8" fill="#fff" stroke="#000" stroke-width="1.6"/>
<rect x="1551.9" y="817.9" width="23.5" height="12.8" fill="#efefef" stroke="#000" stroke-width="1.4"/>
<path d="M1557.6 817.9 V830.7 M1570.1 817.9 V830.7" stroke="#000" stroke-width="1.4"/>
<rect x="1526.9" y="838" width="13.7" height="24.4" fill="#000" stroke="#000" stroke-width="1.2"/>
<rect x="1528.2" y="839.3" width="11.1" height="4.7" fill="#efefef"/>
<rect x="1528.2" y="856.4" width="11.1" height="4.7" fill="#efefef"/>
<rect x="1526.9" y="876.2" width="13.7" height="24.4" fill="#000" stroke="#000" stroke-width="1.2"/>
<rect x="1528.2" y="877.5" width="11.1" height="4.7" fill="#efefef"/>
<rect x="1528.2" y="894.6" width="11.1" height="4.7" fill="#efefef"/>
<rect x="1565.1" y="909.1" width="13.7" height="24.4" fill="#000" stroke="#000" stroke-width="1.2"/>
<rect x="1566.4" y="910.4" width="11.1" height="4.7" fill="#efefef"/>
<rect x="1566.4" y="927.5" width="11.1" height="4.7" fill="#efefef"/>
<rect x="1546.3" y="851.7" width="43.8" height="41.8" fill="#000"/>
<rect x="1607.4" y="907.8" width="44.2" height="41.7" fill="#000"/>
<rect x="1592.9" y="860.2" width="22" height="23.5" fill="#efefef" stroke="#000" stroke-width="1.4"/>
<rect x="1629.6" y="860.2" width="22.5" height="23.5" fill="#efefef" stroke="#000" stroke-width="1.4"/>
<rect x="1526.9" y="916.2" width="24.1" height="45.5" fill="#efefef" stroke="#000" stroke-width="1.4"/>
<path d="M1526.9 922.8 H1551 M1526.9 954.8 H1551" stroke="#000" stroke-width="1.3"/>
<circle cx="1556.6" cy="942" r="3" fill="#fff" stroke="#000" stroke-width="1.2"/>
<rect x="1591.4" y="912.8" width="6.2" height="6.6" fill="#efefef" stroke="#000" stroke-width="1.2"/>
<rect x="1591.4" y="943.8" width="6.2" height="6.5" fill="#efefef" stroke="#000" stroke-width="1.2"/>
<rect x="1584.8" y="919.4" width="18.8" height="24.4" fill="#000" stroke="#000" stroke-width="1.2"/>
<rect x="1586.1" y="920.8" width="16.2" height="6" fill="#efefef"/>
<rect x="1619.6" y="957" width="25" height="13.2" fill="#000" stroke="#000" stroke-width="1.2"/>
<rect x="1620.9" y="958.3" width="4.7" height="10.6" fill="#efefef"/>
<rect x="1638.6" y="958.3" width="4.7" height="10.6" fill="#efefef"/>
<rect x="1484.4" y="1241.4" width="317.2" height="320.2" fill="#000"/>
<rect x="1474.4" y="1232.4" width="317.1" height="320" fill="#d3cfcc" stroke="#000" stroke-width="2"/>
<circle cx="1501.8" cy="1260.7" r="13.5" fill="#fff" stroke="#000" stroke-width="1.6"/>
<circle cx="1501.8" cy="1523.6" r="13.5" fill="#fff" stroke="#000" stroke-width="1.6"/>
<circle cx="1765.2" cy="1523.6" r="13.5" fill="#fff" stroke="#000" stroke-width="1.6"/>
<circle cx="1490.8" cy="1314" r="6.6" fill="#fff" stroke="#000" stroke-width="1.5"/>
<circle cx="1490.8" cy="1345.36" r="6.6" fill="#fff" stroke="#000" stroke-width="1.5"/>
<circle cx="1490.8" cy="1376.72" r="6.6" fill="#fff" stroke="#000" stroke-width="1.5"/>
<circle cx="1490.8" cy="1408.08" r="6.6" fill="#fff" stroke="#000" stroke-width="1.5"/>
<circle cx="1490.8" cy="1439.44" r="6.6" fill="#fff" stroke="#000" stroke-width="1.5"/>
<circle cx="1490.8" cy="1470.8" r="6.6" fill="#fff" stroke="#000" stroke-width="1.5"/>
<circle cx="1523.1" cy="1314" r="6.6" fill="#fff" stroke="#000" stroke-width="1.5"/>
<circle cx="1523.1" cy="1345.36" r="6.6" fill="#fff" stroke="#000" stroke-width="1.5"/>
<circle cx="1523.1" cy="1376.72" r="6.6" fill="#fff" stroke="#000" stroke-width="1.5"/>
<circle cx="1523.1" cy="1408.08" r="6.6" fill="#fff" stroke="#000" stroke-width="1.5"/>
<circle cx="1523.1" cy="1439.44" r="6.6" fill="#fff" stroke="#000" stroke-width="1.5"/>
<circle cx="1523.1" cy="1470.8" r="6.6" fill="#fff" stroke="#000" stroke-width="1.5"/>
<rect x="1556.5" y="1246" width="137.5" height="125.4" rx="2" fill="#efefef" stroke="#000" stroke-width="1.6"/>
<rect x="1736.4" y="1242.5" width="43" height="23.1" fill="#efefef" stroke="#000" stroke-width="1.5"/>
<path d="M1743 1242.5 V1265.6 M1772.7 1242.5 V1265.6" stroke="#000" stroke-width="1.4"/>
<rect x="1736.4" y="1269.9" width="43" height="22.5" fill="#efefef" stroke="#000" stroke-width="1.5"/>
<path d="M1743 1269.9 V1292.4 M1772.7 1269.9 V1292.4" stroke="#000" stroke-width="1.4"/>
<rect x="1736.4" y="1296.7" width="43" height="22.2" fill="#efefef" stroke="#000" stroke-width="1.5"/>
<path d="M1743 1296.7 V1318.9 M1772.7 1296.7 V1318.9" stroke="#000" stroke-width="1.4"/>
<rect x="1736.4" y="1323.2" width="43" height="22.5" fill="#efefef" stroke="#000" stroke-width="1.5"/>
<path d="M1743 1323.2 V1345.7 M1772.7 1323.2 V1345.7" stroke="#000" stroke-width="1.4"/>
<rect x="1737" y="1353" width="10.5" height="8" fill="#a8a09b" stroke="#000" stroke-width="1.2"/>
<rect x="1737" y="1446" width="10.5" height="7" fill="#a8a09b" stroke="#000" stroke-width="1.2"/>
<path d="M1707.5 1359.3 H1777 L1785.7 1368 V1447.2 H1698.9 V1368 Z" fill="#000"/>
<circle cx="1742.2" cy="1403.4" r="38.3" fill="#fff"/>
<circle cx="1742.2" cy="1403.4" r="35.5" fill="#efefef" stroke="#000" stroke-width="1.5"/>
<rect x="1636.5" y="1489" width="8" height="10" fill="#a8a09b" stroke="#000" stroke-width="1.2"/>
<rect x="1730.6" y="1489" width="6.4" height="10" fill="#a8a09b" stroke="#000" stroke-width="1.2"/>
<path d="M1653 1450.6 H1730.6 V1536.5 H1653 L1644.5 1528 V1459 Z" fill="#000"/>
<circle cx="1687.4" cy="1493.9" r="38.3" fill="#fff"/>
<circle cx="1687.4" cy="1493.9" r="35.5" fill="#efefef" stroke="#000" stroke-width="1.5"/>
<path d="M1555 1409.1 H1614 L1618.2 1413.5 V1426 H1550.5 V1413.5 Z" fill="#efefef" stroke="#000" stroke-width="1.5"/>
<path d="M1547 1425.6 H1622 L1627.7 1431.5 V1504 H1541.2 V1431.5 Z" fill="#000"/>
<rect x="1550.5" y="1504" width="10.9" height="35.4" fill="#efefef" stroke="#000" stroke-width="1.3"/>
<path d="M1550.5 1510.5 H1561.4" stroke="#000" stroke-width="1"/>
<path d="M1550.5 1517 H1561.4" stroke="#000" stroke-width="1"/>
<path d="M1550.5 1523.5 H1561.4" stroke="#000" stroke-width="1"/>
<path d="M1550.5 1530 H1561.4" stroke="#000" stroke-width="1"/>
<rect x="1607.6" y="1504" width="10.6" height="35.4" fill="#efefef" stroke="#000" stroke-width="1.3"/>
<path d="M1607.6 1510.5 H1618.2" stroke="#000" stroke-width="1"/>
<path d="M1607.6 1517 H1618.2" stroke="#000" stroke-width="1"/>
<path d="M1607.6 1523.5 H1618.2" stroke="#000" stroke-width="1"/>
<path d="M1607.6 1530 H1618.2" stroke="#000" stroke-width="1"/>
<rect x="1578.7" y="1504" width="11.6" height="12.4" fill="#efefef" stroke="#000" stroke-width="1.3"/>
<rect x="747.6" y="1511" width="353.9" height="144.6" rx="3" fill="#000"/>
<rect x="737.6" y="1500.6" width="353.8" height="144.2" rx="2.5" fill="#a69f9a" stroke="#000" stroke-width="2"/>
<path d="M1069.5 1554.9 H1079.5 M1074.5 1549.9 V1559.9 M1069.5 1598.4 H1079.5" stroke="#222" stroke-width="1.6"/>
<path d="M1123.6 563.7 L1160.82 618" stroke="#000" stroke-width="1.5"/>
<path d="M1160.3 563.7 L1182.54 640" stroke="#000" stroke-width="1.5"/>
<path d="M1197.7 563.7 L1204.26 618" stroke="#000" stroke-width="1.5"/>
<path d="M1235.1 563.7 L1225.98 618" stroke="#000" stroke-width="1.5"/>
<path d="M1333.9 563.7 L1378.02 640" stroke="#000" stroke-width="1.5"/>
<path d="M1371.5 563.7 L1399.74 640" stroke="#000" stroke-width="1.5"/>
<path d="M1408.9 563.7 L1421.46 618" stroke="#000" stroke-width="1.5"/>
<path d="M1446.4 563.7 L1443.18 618" stroke="#000" stroke-width="1.5"/>
<path d="M1139.1 615.5 V697.5 H714.3 V964.2 H776" fill="none" stroke="#000000" stroke-width="4.6" stroke-linecap="butt" stroke-linejoin="miter"/>
<path d="M818.6 964.2 H855.9" fill="none" stroke="#000000" stroke-width="4.6" stroke-linecap="butt" stroke-linejoin="miter"/>
<circle cx="855.9" cy="964.2" r="2.3" fill="#000000"/>
<path d="M1160.82 618 V719.4 H737.5 V862.3 H778.3" fill="none" stroke="#0000dd" stroke-width="4.6" stroke-linecap="butt" stroke-linejoin="miter"/>
<path d="M816.5 862.3 H855.9" fill="none" stroke="#0000dd" stroke-width="4.6" stroke-linecap="butt" stroke-linejoin="miter"/>
<circle cx="855.9" cy="862.3" r="2.3" fill="#0000dd"/>
<path d="M1182.54 640 V741.5 H759.4 V828.4 H771.5" fill="none" stroke="#ffb600" stroke-width="4.6" stroke-linecap="butt" stroke-linejoin="miter"/>
<path d="M822 828.4 H855.9" fill="none" stroke="#ffb600" stroke-width="4.6" stroke-linecap="butt" stroke-linejoin="miter"/>
<circle cx="855.9" cy="828.4" r="2.3" fill="#ffb600"/>
<path d="M1204.26 618 V764.5 H668.4 V1219.2 H555 M498 1219.2 H360" fill="none" stroke="#00d66b" stroke-width="4.6" stroke-linecap="butt" stroke-linejoin="miter"/>
<path d="M1225.98 618 V785.6 H690.4 V1241.1 H555 M498 1241.1 H360" fill="none" stroke="#9933ff" stroke-width="4.6" stroke-linecap="butt" stroke-linejoin="miter"/>
<path d="M1291.14 615.5 V1174.4 H549 M506 1174.4 H360" fill="none" stroke="#000000" stroke-width="4.6" stroke-linecap="butt" stroke-linejoin="miter"/>
<path d="M1026.1 964.2 H1117 M1158 964.2 H1200.3 V1345.3 H1346.4 A11 11 0 0 0 1357.4 1334.3" fill="none" stroke="#000000" stroke-width="4.6" stroke-linecap="butt" stroke-linejoin="miter"/>
<path d="M1026.1 964.2 H1050" fill="none" stroke="#000000" stroke-width="4.6" stroke-linecap="butt" stroke-linejoin="miter"/>
<circle cx="1026.1" cy="964.2" r="2.3" fill="#000000"/>
<path d="M1026.1 930 H1110 M1163 930 H1222.4 V1224.4 A11 11 0 0 0 1233.4 1235.4 H1379.3 V1116.4 H1880.3 V928.3 H1800" fill="none" stroke="#ff0000" stroke-width="4.6" stroke-linecap="butt" stroke-linejoin="miter"/>
<path d="M1026.1 930 H1050" fill="none" stroke="#ff0000" stroke-width="4.6" stroke-linecap="butt" stroke-linejoin="miter"/>
<circle cx="1026.1" cy="930" r="2.3" fill="#ff0000"/>
<path d="M1222.4 1246.4 A11 11 0 0 1 1233.4 1235.4" fill="none" stroke="#ff0000" stroke-width="4.6" stroke-linecap="butt" stroke-linejoin="miter"/>
<path d="M1222.4 1246.4 V1396.7 A11 11 0 0 0 1233.4 1407.7 H1409" fill="none" stroke="#ff0000" stroke-width="4.6" stroke-linecap="butt" stroke-linejoin="miter"/>
<path d="M1222.4 1418.7 A11 11 0 0 1 1233.4 1407.7" fill="none" stroke="#ff0000" stroke-width="4.6" stroke-linecap="butt" stroke-linejoin="miter"/>
<path d="M1222.4 1418.7 V1554.9 H1182" fill="none" stroke="#ff0000" stroke-width="4.6" stroke-linecap="butt" stroke-linejoin="miter"/>
<path d="M1128 1554.9 H1101" fill="none" stroke="#ff0000" stroke-width="4.6" stroke-linecap="butt" stroke-linejoin="miter"/>
<path d="M1462.5 1407.7 H1490.8" fill="none" stroke="#ff0000" stroke-width="4.6" stroke-linecap="butt" stroke-linejoin="miter"/>
<circle cx="1490.8" cy="1407.7" r="2.3" fill="#ff0000"/>
<path d="M1312.86 615.5 V1197.3 H550 M504 1197.3 H360" fill="none" stroke="#ff0000" stroke-width="4.6" stroke-linecap="butt" stroke-linejoin="miter"/>
<path d="M1312.86 618 H1380.52" fill="none" stroke="#ff0000" stroke-width="4.6" stroke-linecap="butt" stroke-linejoin="miter"/>
<path d="M1026.1 862.4 H1075 M1200.3 862.4 H1267.4 V1152.4 H589 M466 1152.4 H360" fill="none" stroke="#ff77ff" stroke-width="4.6" stroke-linecap="butt" stroke-linejoin="miter"/>
<path d="M1026.1 862.4 H1050" fill="none" stroke="#ff77ff" stroke-width="4.6" stroke-linecap="butt" stroke-linejoin="miter"/>
<circle cx="1026.1" cy="862.4" r="2.3" fill="#ff77ff"/>
<path d="M1026.1 895.9 H1075 M1200.5 895.9 H1244.5 V1131.4 H590 M465 1131.4 H360" fill="none" stroke="#00cccc" stroke-width="4.6" stroke-linecap="butt" stroke-linejoin="miter"/>
<path d="M1026.1 895.9 H1050" fill="none" stroke="#00cccc" stroke-width="4.6" stroke-linecap="butt" stroke-linejoin="miter"/>
<circle cx="1026.1" cy="895.9" r="2.3" fill="#00cccc"/>
<path d="M1508.34 640 V776.4 H1752 M1797 776.4 H2060" fill="none" stroke="#000000" stroke-width="4.6" stroke-linecap="butt" stroke-linejoin="miter"/>
<path d="M1443.18 618 V734.2 H1745 M1804 734.2 H2060" fill="none" stroke="#00d66b" stroke-width="4.6" stroke-linecap="butt" stroke-linejoin="miter"/>
<path d="M1421.46 618 V714.1 H1744.8 M1804.3 714.1 H2060" fill="none" stroke="#9933ff" stroke-width="4.6" stroke-linecap="butt" stroke-linejoin="miter"/>
<path d="M1530.06 640 V745.5 A11 11 0 0 1 1519.06 756.5 H1335.3 V1314.3 H1422" fill="none" stroke="#ff0000" stroke-width="4.6" stroke-linecap="butt" stroke-linejoin="miter"/>
<path d="M1530.06 745.5 A11 11 0 0 0 1541.06 756.5 H1551.78 V640" fill="none" stroke="#ff0000" stroke-width="4.6" stroke-linecap="butt" stroke-linejoin="miter"/>
<path d="M1452 1314.3 H1490.8" fill="none" stroke="#ff0000" stroke-width="4.6" stroke-linecap="butt" stroke-linejoin="miter"/>
<circle cx="1490.8" cy="1314.3" r="2.3" fill="#ff0000"/>
<path d="M1549.28 618 H1582.4 V756 H1751 M1797 756 H2060" fill="none" stroke="#ff0000" stroke-width="4.6" stroke-linecap="butt" stroke-linejoin="miter"/>
<path d="M1356.3 640 V962.1 H1421" fill="none" stroke="#000000" stroke-width="4.6" stroke-linecap="butt" stroke-linejoin="miter"/>
<path d="M1464.5 962.1 H1504" fill="none" stroke="#000000" stroke-width="4.6" stroke-linecap="butt" stroke-linejoin="miter"/>
<circle cx="1504" cy="962.1" r="2.3" fill="#000000"/>
<path d="M1378.02 640 V860.1 H1423" fill="none" stroke="#0000dd" stroke-width="4.6" stroke-linecap="butt" stroke-linejoin="miter"/>
<path d="M1461 860.1 H1504" fill="none" stroke="#0000dd" stroke-width="4.6" stroke-linecap="butt" stroke-linejoin="miter"/>
<circle cx="1504" cy="860.1" r="2.3" fill="#0000dd"/>
<path d="M1399.74 640 V826.2 H1417" fill="none" stroke="#ffb600" stroke-width="4.6" stroke-linecap="butt" stroke-linejoin="miter"/>
<path d="M1467 826.2 H1504" fill="none" stroke="#ffb600" stroke-width="4.6" stroke-linecap="butt" stroke-linejoin="miter"/>
<circle cx="1504" cy="826.2" r="2.3" fill="#ffb600"/>
<path d="M1674.2 860.3 H1713 M1837 860.3 H1861.2 V795.8 H2060" fill="none" stroke="#ff77ff" stroke-width="4.6" stroke-linecap="butt" stroke-linejoin="miter"/>
<path d="M1674.2 860.3 H1700" fill="none" stroke="#ff77ff" stroke-width="4.6" stroke-linecap="butt" stroke-linejoin="miter"/>
<circle cx="1674.2" cy="860.3" r="2.3" fill="#ff77ff"/>
<path d="M1674.2 894.1 H1712 M1837 894.1 H1880.6 V816.5 H2060" fill="none" stroke="#00cccc" stroke-width="4.6" stroke-linecap="butt" stroke-linejoin="miter"/>
<path d="M1674.2 894.1 H1700" fill="none" stroke="#00cccc" stroke-width="4.6" stroke-linecap="butt" stroke-linejoin="miter"/>
<circle cx="1674.2" cy="894.1" r="2.3" fill="#00cccc"/>
<path d="M1674.2 928.3 H1747" fill="none" stroke="#ff0000" stroke-width="4.6" stroke-linecap="butt" stroke-linejoin="miter"/>
<circle cx="1674.2" cy="928.3" r="2.3" fill="#ff0000"/>
<path d="M1674.2 962.1 H1754" fill="none" stroke="#000000" stroke-width="4.6" stroke-linecap="butt" stroke-linejoin="miter"/>
<circle cx="1674.2" cy="962.1" r="2.3" fill="#000000"/>
<path d="M1357.4 1334.3 V1098.2 H1861.5 V962.1 H1796" fill="none" stroke="#000000" stroke-width="4.6" stroke-linecap="butt" stroke-linejoin="miter"/>
<path d="M1416 1345.3 H1368.4 A11 11 0 0 1 1357.4 1334.3" fill="none" stroke="#000000" stroke-width="4.6" stroke-linecap="butt" stroke-linejoin="miter"/>
<path d="M1458.5 1345.3 H1480.3" fill="none" stroke="#000000" stroke-width="4.6" stroke-linecap="butt" stroke-linejoin="miter"/>
<circle cx="1480.3" cy="1345.3" r="2.3" fill="#000000"/>
<path d="M1490.8 1376.5 H1457 M1416 1376.5 H1248.3 V1599.6 H1176" fill="none" stroke="#000000" stroke-width="4.6" stroke-linecap="butt" stroke-linejoin="miter"/>
<path d="M1490.8 1376.5 H1470" fill="none" stroke="#000000" stroke-width="4.6" stroke-linecap="butt" stroke-linejoin="miter"/>
<circle cx="1490.8" cy="1376.5" r="2.3" fill="#000000"/>
<path d="M1135 1599.6 H1101" fill="none" stroke="#000000" stroke-width="4.6" stroke-linecap="butt" stroke-linejoin="miter"/>
<rect x="1136.2" y="615.1" width="5.8" height="5.8" fill="#000000"/>
<rect x="1288.24" y="615.1" width="5.8" height="5.8" fill="#000000"/>
<rect x="1309.96" y="615.1" width="5.8" height="5.8" fill="#ff0000"/>
<rect x="1375.12" y="615.1" width="5.8" height="5.8" fill="#ff0000"/>
<rect x="1548.88" y="615.1" width="5.8" height="5.8" fill="#ff0000"/>
<rect x="1353.4" y="637.1" width="5.8" height="5.8" fill="#000000"/>
<rect x="1505.44" y="637.1" width="5.8" height="5.8" fill="#000000"/>
<rect x="1527.16" y="637.1" width="5.8" height="5.8" fill="#ff0000"/>
<rect x="1548.88" y="637.1" width="5.8" height="5.8" fill="#ff0000"/>
<circle cx="1160.82" cy="618" r="4.6" fill="#000"/>
<circle cx="1182.54" cy="640" r="4.6" fill="#000"/>
<circle cx="1204.26" cy="618" r="4.6" fill="#000"/>
<circle cx="1225.98" cy="618" r="4.6" fill="#000"/>
<circle cx="1378.02" cy="640" r="4.6" fill="#000"/>
<circle cx="1399.74" cy="640" r="4.6" fill="#000"/>
<circle cx="1421.46" cy="618" r="4.6" fill="#000"/>
<circle cx="1443.18" cy="618" r="4.6" fill="#000"/>
<circle cx="1123.6" cy="563.7" r="14" fill="#0000dd" stroke="#000" stroke-width="1.6"/>
<text class="pn" x="1123.6" y="569.3" fill="#fff" textLength="15.5" lengthAdjust="spacingAndGlyphs">37</text>
<circle cx="1160.3" cy="563.7" r="14" fill="#ffb600" stroke="#000" stroke-width="1.6"/>
<text class="pn" x="1160.3" y="569.3" fill="#000" textLength="15.5" lengthAdjust="spacingAndGlyphs">36</text>
<circle cx="1197.7" cy="563.7" r="14" fill="#00d66b" stroke="#000" stroke-width="1.6"/>
<text class="pn" x="1197.7" y="569.3" fill="#000" textLength="15.5" lengthAdjust="spacingAndGlyphs">33</text>
<circle cx="1235.1" cy="563.7" r="14" fill="#9933ff" stroke="#000" stroke-width="1.6"/>
<text class="pn" x="1235.1" y="569.3" fill="#fff" textLength="15.5" lengthAdjust="spacingAndGlyphs">31</text>
<circle cx="1333.9" cy="563.7" r="14" fill="#0000dd" stroke="#000" stroke-width="1.6"/>
<text class="pn" x="1333.9" y="569.3" fill="#fff" textLength="15.5" lengthAdjust="spacingAndGlyphs">18</text>
<circle cx="1371.5" cy="563.7" r="14" fill="#ffb600" stroke="#000" stroke-width="1.6"/>
<text class="pn" x="1371.5" y="569.3" fill="#000" textLength="15.5" lengthAdjust="spacingAndGlyphs">16</text>
<circle cx="1408.9" cy="563.7" r="14" fill="#9933ff" stroke="#000" stroke-width="1.6"/>
<text class="pn" x="1408.9" y="569.3" fill="#fff" textLength="15.5" lengthAdjust="spacingAndGlyphs">13</text>
<circle cx="1446.4" cy="563.7" r="14" fill="#00d66b" stroke="#000" stroke-width="1.6"/>
<text class="pn" x="1446.4" y="569.3" fill="#000" textLength="13" lengthAdjust="spacingAndGlyphs">11</text>
<text class="wl" x="796.3" y="833.6" fill="#ff9900" stroke="#ff9900" textLength="39.2" lengthAdjust="spacingAndGlyphs">PWM</text>
<text class="wl" x="796.4" y="867.5" fill="#0000dd" stroke="#0000dd" textLength="27.8" lengthAdjust="spacingAndGlyphs">DIR</text>
<text class="wl" x="796.8" y="969.4" fill="#000000" stroke="#000000" textLength="34.1" lengthAdjust="spacingAndGlyphs">GND</text>
<text class="wl" x="1137.6" y="865.8" fill="#ff77ff" stroke="#ff77ff" textLength="116.8" lengthAdjust="spacingAndGlyphs">MOTOR PWR 1</text>
<text class="wl" x="1137.4" y="899.3" fill="#00cccc" stroke="#00cccc" textLength="118" lengthAdjust="spacingAndGlyphs">MOTOR PWR 2</text>
<text class="wl" x="1137.4" y="935.2" fill="#ff0000" stroke="#ff0000" textLength="46.6" lengthAdjust="spacingAndGlyphs">14.8V</text>
<text class="wl" x="1137.9" y="969.4" fill="#000000" stroke="#000000" textLength="34.1" lengthAdjust="spacingAndGlyphs">GND</text>
<text class="wl" x="1441.8" y="831.4" fill="#ff9900" stroke="#ff9900" textLength="39.2" lengthAdjust="spacingAndGlyphs">PWM</text>
<text class="wl" x="1441.1" y="865.3" fill="#0000dd" stroke="#0000dd" textLength="27.8" lengthAdjust="spacingAndGlyphs">DIR</text>
<text class="wl" x="1442.5" y="967.3" fill="#000000" stroke="#000000" textLength="34.1" lengthAdjust="spacingAndGlyphs">GND</text>
<text class="wl" x="1774.2" y="863.7" fill="#ff77ff" stroke="#ff77ff" textLength="116.8" lengthAdjust="spacingAndGlyphs">MOTOR PWR 1</text>
<text class="wl" x="1774.5" y="897.5" fill="#00cccc" stroke="#00cccc" textLength="118" lengthAdjust="spacingAndGlyphs">MOTOR PWR 2</text>
<text class="wl" x="1773.5" y="933.5" fill="#ff0000" stroke="#ff0000" textLength="46.6" lengthAdjust="spacingAndGlyphs">14.8V</text>
<text class="wl" x="1774.8" y="967.3" fill="#000000" stroke="#000000" textLength="34.1" lengthAdjust="spacingAndGlyphs">GND</text>
<text class="wl" x="1774.3" y="719.3" fill="#9933ff" stroke="#9933ff" textLength="49.2" lengthAdjust="spacingAndGlyphs">OUT B</text>
<text class="wl" x="1773.8" y="739.4" fill="#00d66b" stroke="#00d66b" textLength="49" lengthAdjust="spacingAndGlyphs">OUT A</text>
<text class="wl" x="1774" y="761.2" fill="#ff0000" stroke="#ff0000" textLength="37.8" lengthAdjust="spacingAndGlyphs">3.3V</text>
<text class="wl" x="1774.5" y="781.6" fill="#000000" stroke="#000000" textLength="34.1" lengthAdjust="spacingAndGlyphs">GND</text>
<text class="wl" x="527.5" y="1134.8" fill="#00cccc" stroke="#00cccc" textLength="118" lengthAdjust="spacingAndGlyphs">MOTOR PWR 2</text>
<text class="wl" x="527.3" y="1155.8" fill="#ff77ff" stroke="#ff77ff" textLength="116.8" lengthAdjust="spacingAndGlyphs">MOTOR PWR 1</text>
<text class="wl" x="527.6" y="1179.6" fill="#000000" stroke="#000000" textLength="34.1" lengthAdjust="spacingAndGlyphs">GND</text>
<text class="wl" x="527" y="1202.5" fill="#ff0000" stroke="#ff0000" textLength="37.8" lengthAdjust="spacingAndGlyphs">3.3V</text>
<text class="wl" x="526.8" y="1224.4" fill="#00d66b" stroke="#00d66b" textLength="49" lengthAdjust="spacingAndGlyphs">OUT A</text>
<text class="wl" x="527.3" y="1246.3" fill="#9933ff" stroke="#9933ff" textLength="49.2" lengthAdjust="spacingAndGlyphs">OUT B</text>
<text class="wl" x="1436.7" y="1319.5" fill="#ff0000" stroke="#ff0000" textLength="19.7" lengthAdjust="spacingAndGlyphs">5V</text>
<text class="wl" x="1436.9" y="1350.5" fill="#000000" stroke="#000000" textLength="34.1" lengthAdjust="spacingAndGlyphs">GND</text>
<text class="wl" x="1436.9" y="1381.7" fill="#000000" stroke="#000000" textLength="34.1" lengthAdjust="spacingAndGlyphs">GND</text>
<text class="wl" x="1436.7" y="1412.9" fill="#ff0000" stroke="#ff0000" textLength="46.6" lengthAdjust="spacingAndGlyphs">14.8V</text>
<text class="wl" x="1155.4" y="1560.1" fill="#ff0000" stroke="#ff0000" textLength="46.6" lengthAdjust="spacingAndGlyphs">14.8V</text>
<text class="wl" x="1155.4" y="1604.8" fill="#000000" stroke="#000000" textLength="34.1" lengthAdjust="spacingAndGlyphs">GND</text>
<circle cx="2237.1" cy="773.7" r="183.5" fill="#000"/>
<g transform="translate(2228.6 765.2) rotate(0)">
<circle cx="0" cy="0" r="183.5" fill="#efefef" stroke="#000" stroke-width="2"/>
<path d="M-11.6 -121.45 A122 122 0 1 1 -118.53 28.88 A92.3 92.3 0 1 0 -11.6 -121.45 Z" fill="#efefef" stroke="#000" stroke-width="1.5"/>
<circle cx="-56.4" cy="-41.5" r="57.8" fill="none" stroke="#000" stroke-width="1.5"/>
<circle cx="-56.4" cy="-41.5" r="30.4" fill="none" stroke="#000" stroke-width="1.5"/>
<circle cx="-66" cy="-141.6" r="14.3" fill="#000"/>
<circle cx="89" cy="-127.8" r="14.3" fill="#000"/>
<circle cx="-155.5" cy="-13.7" r="14.3" fill="#000"/>
<circle cx="155.2" cy="12.8" r="14.3" fill="#000"/>
<circle cx="-89.9" cy="126.9" r="14.3" fill="#000"/>
<circle cx="65.7" cy="140.6" r="14.3" fill="#000"/>
<g transform="translate(13 -155.6) rotate(0)">
<circle cx="0" cy="0" r="19.3" fill="#efefef" stroke="#000" stroke-width="1.4"/>
<path d="M-3.2 -9 H3.2 V-3.2 H9 V3.2 H3.2 V9 H-3.2 V3.2 H-9 V-3.2 H-3.2 Z" fill="none" stroke="#000" stroke-width="1.3"/>
</g>
<g transform="translate(-140.4 65.5) rotate(0)">
<circle cx="0" cy="0" r="19.3" fill="#efefef" stroke="#000" stroke-width="1.4"/>
<path d="M-3.2 -9 H3.2 V-3.2 H9 V3.2 H3.2 V9 H-3.2 V3.2 H-9 V-3.2 H-3.2 Z" fill="none" stroke="#000" stroke-width="1.3"/>
</g>
<g transform="translate(125.8 87.9) rotate(0)">
<circle cx="0" cy="0" r="19.3" fill="#efefef" stroke="#000" stroke-width="1.4"/>
<path d="M-3.2 -9 H3.2 V-3.2 H9 V3.2 H3.2 V9 H-3.2 V3.2 H-9 V-3.2 H-3.2 Z" fill="none" stroke="#000" stroke-width="1.3"/>
</g>
</g>
<circle cx="206.1" cy="1179" r="183.5" fill="#000"/>
<g transform="translate(197.6 1170.5) rotate(180)">
<circle cx="0" cy="0" r="183.5" fill="#efefef" stroke="#000" stroke-width="2"/>
<path d="M-11.6 -121.45 A122 122 0 1 1 -118.53 28.88 A92.3 92.3 0 1 0 -11.6 -121.45 Z" fill="#efefef" stroke="#000" stroke-width="1.5"/>
<circle cx="-56.4" cy="-41.5" r="57.8" fill="none" stroke="#000" stroke-width="1.5"/>
<circle cx="-56.4" cy="-41.5" r="30.4" fill="none" stroke="#000" stroke-width="1.5"/>
<circle cx="-66" cy="-141.6" r="14.3" fill="#000"/>
<circle cx="89" cy="-127.8" r="14.3" fill="#000"/>
<circle cx="-155.5" cy="-13.7" r="14.3" fill="#000"/>
<circle cx="155.2" cy="12.8" r="14.3" fill="#000"/>
<circle cx="-89.9" cy="126.9" r="14.3" fill="#000"/>
<circle cx="65.7" cy="140.6" r="14.3" fill="#000"/>
<g transform="translate(13 -155.6) rotate(-180)">
<circle cx="0" cy="0" r="19.3" fill="#efefef" stroke="#000" stroke-width="1.4"/>
<path d="M-3.2 -9 H3.2 V-3.2 H9 V3.2 H3.2 V9 H-3.2 V3.2 H-9 V-3.2 H-3.2 Z" fill="none" stroke="#000" stroke-width="1.3"/>
</g>
<g transform="translate(-140.4 65.5) rotate(-180)">
<circle cx="0" cy="0" r="19.3" fill="#efefef" stroke="#000" stroke-width="1.4"/>
<path d="M-3.2 -9 H3.2 V-3.2 H9 V3.2 H3.2 V9 H-3.2 V3.2 H-9 V-3.2 H-3.2 Z" fill="none" stroke="#000" stroke-width="1.3"/>
</g>
<g transform="translate(125.8 87.9) rotate(-180)">
<circle cx="0" cy="0" r="19.3" fill="#efefef" stroke="#000" stroke-width="1.4"/>
<path d="M-3.2 -9 H3.2 V-3.2 H9 V3.2 H3.2 V9 H-3.2 V3.2 H-9 V-3.2 H-3.2 Z" fill="none" stroke="#000" stroke-width="1.3"/>
</g>
</g>
</svg>
</body></html>
